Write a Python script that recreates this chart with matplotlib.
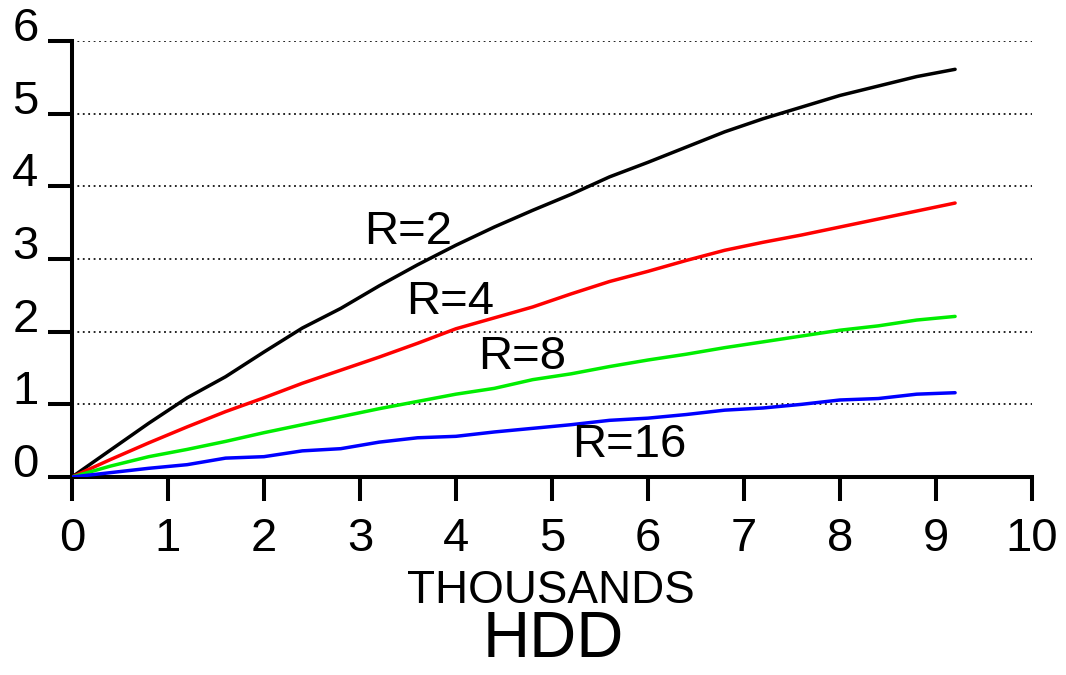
import matplotlib.pyplot as plt

plt.rcParams["font.family"] = ["Liberation Sans", "DejaVu Sans"]

hdd = [0.0, 0.4, 0.8, 1.2, 1.6, 2.0, 2.4, 2.8, 3.2, 3.6, 4.0, 4.4,
       4.8, 5.2, 5.6, 6.0, 6.4, 6.8, 7.2, 7.6, 8.0, 8.4, 8.8, 9.2]
r2 = [0, 0.37, 0.74, 1.09, 1.38, 1.72, 2.05, 2.32, 2.63, 2.92, 3.19, 3.44,
      3.67, 3.89, 4.13, 4.33, 4.54, 4.75, 4.93, 5.09, 5.25, 5.38, 5.51, 5.61]
r4 = [0, 0.24, 0.47, 0.69, 0.90, 1.09, 1.29, 1.47, 1.65, 1.84, 2.04, 2.19,
      2.34, 2.52, 2.69, 2.83, 2.98, 3.12, 3.23, 3.33, 3.44, 3.55, 3.66, 3.77]
r8 = [0, 0.15, 0.28, 0.38, 0.49, 0.61, 0.72, 0.83, 0.94, 1.04, 1.14, 1.22,
      1.34, 1.42, 1.52, 1.61, 1.69, 1.78, 1.86, 1.94, 2.02, 2.08, 2.16, 2.21]
r16 = [0, 0.06, 0.12, 0.17, 0.26, 0.28, 0.36, 0.39, 0.48, 0.54, 0.56, 0.62,
       0.67, 0.72, 0.78, 0.81, 0.86, 0.92, 0.95, 1.00, 1.06, 1.08, 1.14, 1.16]

series = [r2, r4, r8, r16]
colors = ["#000000", "#ff0000", "#00ee00", "#0000ff"]
labels = ["R=2", "R=4", "R=8", "R=16"]
label_pos = [(3.5, 3.37), (3.94, 2.41), (4.69, 1.65), (5.81, 0.44)]

fig = plt.figure(figsize=(10.66, 6.75), dpi=100)
ax = fig.add_axes([0.0675, 0.2933, 0.9005, 0.646])

for y in range(1, 7):
    ax.axhline(y, color="#111111", linewidth=1.3, linestyle=(0, (1, 2)), zorder=1)

for vals, c in zip(series, colors):
    ax.plot(hdd, vals, color=c, linewidth=2.5, solid_capstyle="round", zorder=3)

for lab, (lx, ly) in zip(labels, label_pos):
    ax.text(lx, ly, lab, fontsize=34, ha="center", va="center", zorder=4)

ax.set_xlim(0, 10)
ax.set_ylim(0, 6)
ax.set_xticks(range(0, 11))
ax.set_yticks(range(0, 7))
for s in ["top", "right"]:
    ax.spines[s].set_visible(False)
for s in ["left", "bottom"]:
    ax.spines[s].set_linewidth(2.9)
ax.tick_params(axis="both", direction="out", length=17, width=2.9, labelsize=34)
ax.tick_params(axis="x", pad=12)
ax.tick_params(axis="y", pad=7)
for t in ax.get_yticklabels():
    t.set_verticalalignment("baseline")

fig.text(0.517, 0.124, "THOUSANDS", fontsize=33, ha="center", va="center")
fig.text(0.519, 0.052, "HDD", fontsize=47, ha="center", va="center")

fig.savefig("out.png", dpi=100)
